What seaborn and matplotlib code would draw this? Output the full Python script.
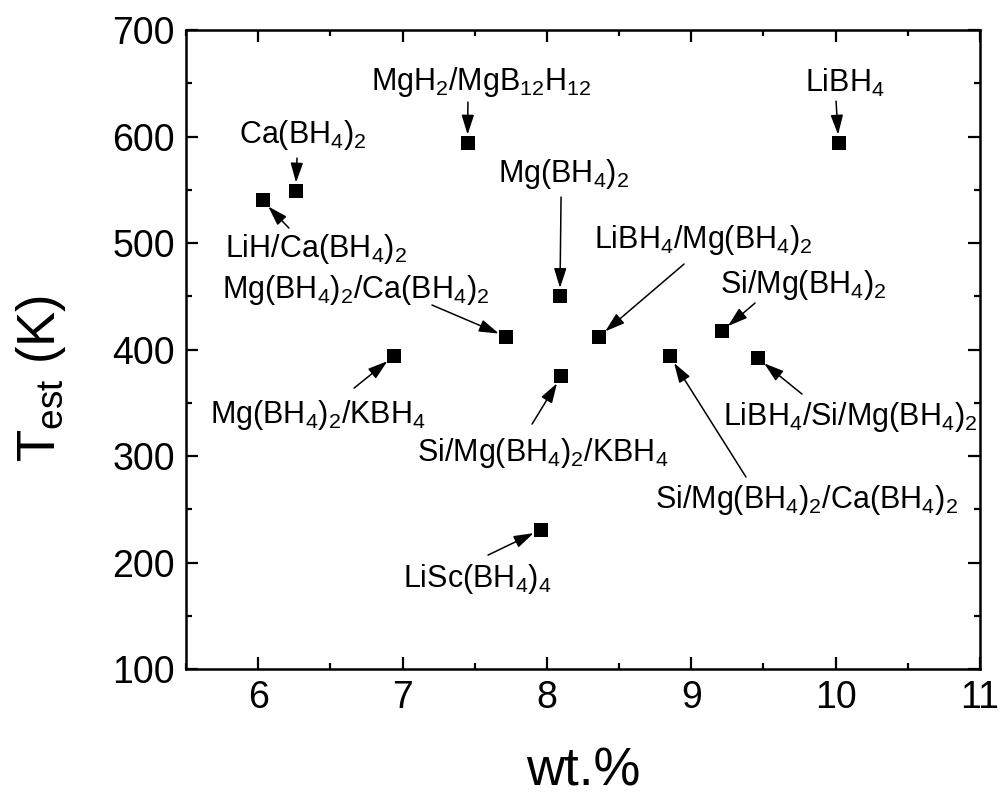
import matplotlib
matplotlib.use("Agg")
import matplotlib.pyplot as plt
from matplotlib.ticker import MultipleLocator
import seaborn as sns
import pandas as pd

# ---- data ----
materials = [
    "MgH2/MgB12H12", "Ca(BH4)2", "LiH/Ca(BH4)2", "Mg(BH4)2/Ca(BH4)2",
    "Mg(BH4)2", "LiBH4", "LiBH4/Mg(BH4)2", "Si/Mg(BH4)2",
    "Mg(BH4)2/KBH4", "Si/Mg(BH4)2/KBH4", "LiSc(BH4)4",
    "Si/Mg(BH4)2/Ca(BH4)2", "LiBH4/Si/Mg(BH4)2",
]
wt_percent = [7.45, 6.26, 6.03, 7.72, 8.09, 10.02, 8.36, 9.21,
              6.94, 8.10, 7.96, 8.85, 9.46]
t_est = [594, 549, 540, 412, 450, 594, 412, 417,
         394, 375, 231, 394, 392]
label_texts = [
    r"$\mathregular{MgH_2/MgB_{12}H_{12}}$",
    r"$\mathregular{Ca(BH_4)_2}$",
    r"$\mathregular{LiH/Ca(BH_4)_2}$",
    r"$\mathregular{Mg(BH_4)_2/Ca(BH_4)_2}$",
    r"$\mathregular{Mg(BH_4)_2}$",
    r"$\mathregular{LiBH_4}$",
    r"$\mathregular{LiBH_4/Mg(BH_4)_2}$",
    r"$\mathregular{Si/Mg(BH_4)_2}$",
    r"$\mathregular{Mg(BH_4)_2/KBH_4}$",
    r"$\mathregular{Si/Mg(BH_4)_2/KBH_4}$",
    r"$\mathregular{LiSc(BH_4)_4}$",
    r"$\mathregular{Si/Mg(BH_4)_2/Ca(BH_4)_2}$",
    r"$\mathregular{LiBH_4/Si/Mg(BH_4)_2}$",
]
x_ticks = [6, 7, 8, 9, 10, 11]
y_ticks = [100, 200, 300, 400, 500, 600, 700]

# ---- layout (label anchor and arrow tail, data coords) ----
label_pos = [(7.543, 643.7), (6.307, 593.9), (6.404, 486.9), (6.678, 448.4),
             (8.118, 557.3), (10.061, 641.8), (9.081, 495.3), (9.778, 453.1),
             (6.411, 331.0), (7.970, 295.3), (7.519, 177.0), (9.795, 251.2),
             (10.100, 329.1)]
tail_pos = [(7.453, 632.4), (6.269, 579.8), (6.213, 514.1), (7.204, 441.8),
            (8.098, 543.2), (10.003, 633.3), (8.950, 480.3), (9.442, 443.7),
            (6.664, 363.8), (7.897, 330.0), (7.592, 207.0), (9.379, 280.3),
            (9.767, 358.2)]

sns.set_theme(style="ticks")
plt.rcParams["font.family"] = ["Liberation Sans", "DejaVu Sans"]
plt.rcParams["mathtext.fontset"] = "custom"
plt.rcParams["mathtext.rm"] = "Liberation Sans"
plt.rcParams["mathtext.it"] = "Liberation Sans:italic"
plt.rcParams["mathtext.bf"] = "Liberation Sans:bold"
plt.rcParams["mathtext.default"] = "regular"

df = pd.DataFrame({"material": materials, "wt": wt_percent, "T": t_est})

fig = plt.figure(figsize=(10, 7.96), dpi=100)
ax = fig.add_axes([0.186, 0.1595, 0.794, 0.8027])

sns.scatterplot(data=df, x="wt", y="T", marker="s", color="black",
                s=95, linewidth=0, ax=ax, legend=False, zorder=3)

for txt, (lx, ly), (tx, ty), px, py in zip(label_texts, label_pos, tail_pos,
                                           wt_percent, t_est):
    ax.text(lx, ly, txt, ha="center", va="baseline", fontsize=22,
            color="black")
    ax.annotate("", xy=(px, py), xytext=(tx, ty),
                arrowprops=dict(arrowstyle="-|>,head_length=1.2,head_width=0.38",
                                mutation_scale=10, color="black", lw=1.1,
                                shrinkA=0, shrinkB=6))

ax.set_xlim(5.5, 11)
ax.set_ylim(100, 700)
ax.set_xticks(x_ticks)
ax.set_yticks(y_ticks)
ax.set_xticklabels([str(v) for v in x_ticks])
ax.set_yticklabels([str(v) for v in y_ticks])
ax.xaxis.set_minor_locator(MultipleLocator(0.5))
ax.yaxis.set_minor_locator(MultipleLocator(50))

ax.tick_params(which="both", direction="in", top=True, right=True,
               width=1.6, color="black", labelcolor="black")
ax.tick_params(which="major", length=8.6, labelsize=27)
ax.tick_params(axis="x", which="major", pad=8)
ax.tick_params(axis="y", which="major", pad=8)
ax.tick_params(which="minor", length=4.3)

for sp in ax.spines.values():
    sp.set_linewidth(1.8)
    sp.set_color("black")
    sp.set_visible(True)

ax.set_xlabel("wt.%", fontsize=38, color="black")
ax.set_ylabel(r"$\mathregular{T_{est}}$ (K)", fontsize=38, color="black")
ax.xaxis.set_label_coords(0.5, -0.122)
ax.yaxis.set_label_coords(-0.148, 0.454)
ax.xaxis.label.set_va("top")

fig.savefig("out.png", dpi=100, facecolor="white")
